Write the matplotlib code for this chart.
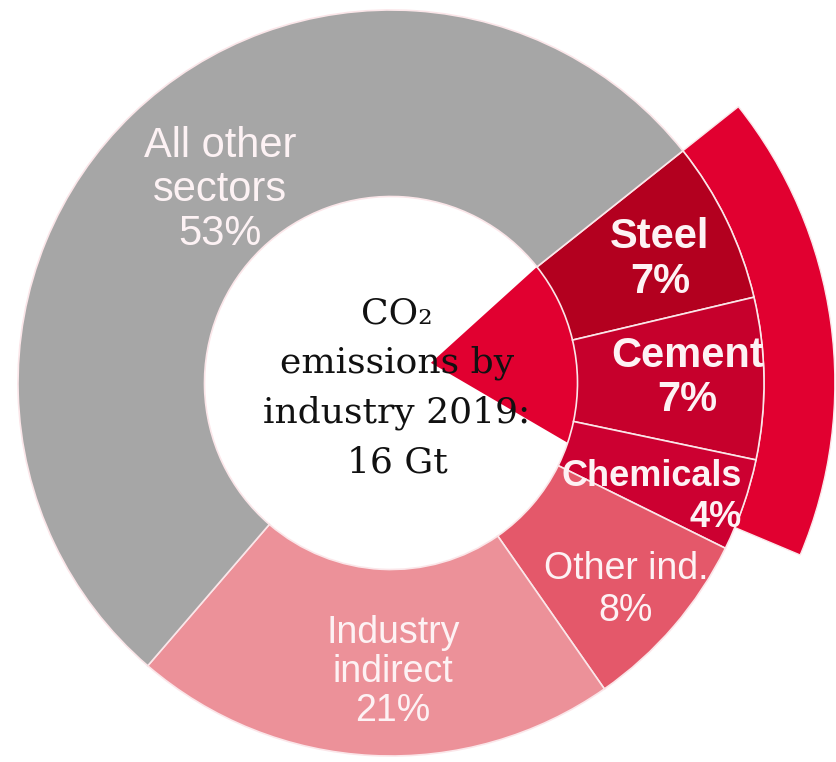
import numpy as np
import matplotlib.pyplot as plt
from matplotlib.patches import Wedge, Polygon

# share of global CO2 emissions 2019 (%)
labels = ['Steel', 'Cement', 'Chemicals', 'Other ind.', 'Industry\nindirect', 'All other\nsectors']
shares = [7, 7, 4, 8, 21, 53]
colors = ['#b3001f', '#c6002c', '#cc0031', '#e4586a', '#ec9199', '#a6a6a6']
center_text = 'CO\u2082\nemissions by\nindustry 2019:\n16 Gt'

# label placement (data units, ring radius = 1) and text styles
label_xy = [(0.721, 0.330), (0.794, 0.013), (0.941, -0.306), (0.630, -0.555), (0.005, -0.775), (-0.458, 0.517)]
label_size = [30, 30, 26, 27, 27, 30]
label_weight = ['bold', 'bold', 'bold', 'normal', 'normal', 'normal']
label_spacing = [1.16, 1.13, 1.23, 1.18, 1.11, 1.14]

start = 38.5          # where Steel begins, degrees
red = '#e10030'
edge = '#fbe6e9'

fig = plt.figure(figsize=(8.36, 7.62), dpi=100)
ax = fig.add_axes([0, 0, 1, 1])

ax.pie(shares, startangle=start, counterclock=False, colors=colors, radius=1.0,
       wedgeprops=dict(width=0.5, edgecolor=edge, linewidth=1.2), normalize=True)

# exploded red triangle pointing into the hole
apex = (0.107, 0.054)
wedge_end = -18.7
t = np.radians(np.linspace(start, wedge_end, 60))
pts = np.vstack([[apex], np.column_stack([0.5 * np.cos(t), 0.5 * np.sin(t)])])
ax.add_patch(Polygon(pts, closed=True, facecolor=red, edgecolor='none', zorder=0.5))

# outer band around the direct industry slices
direct = sum(shares[:3])
band_trim = 3.5
ax.add_patch(Wedge((0, 0), 1.19, start - direct * 3.6 + band_trim, start, width=0.19,
                   facecolor=red, edgecolor=edge, linewidth=1.0, zorder=0.8))

for lab, s, xy, fs, fw, ls in zip(labels, shares, label_xy, label_size, label_weight, label_spacing):
    txt = f'{lab}\n{s}%'
    ha = 'right' if lab == 'Chemicals' else 'center'
    ax.text(xy[0], xy[1], txt, ha=ha, va='center', multialignment=ha,
            fontsize=fs, fontweight=fw, family='Liberation Sans', color='#fdf2f4',
            linespacing=ls, zorder=5)

ax.text(0.016, -0.013, center_text, ha='center', va='center', fontsize=26,
        family='DejaVu Serif', color='#111111', linespacing=1.57, zorder=6)

# centre (391, 383) px, ring radius 373 px
ax.set_xlim(-391 / 373, (836 - 391) / 373)
ax.set_ylim((383 - 762) / 373, 383 / 373)
ax.set_aspect('auto')
ax.axis('off')

fig.savefig('out.png', dpi=100)
